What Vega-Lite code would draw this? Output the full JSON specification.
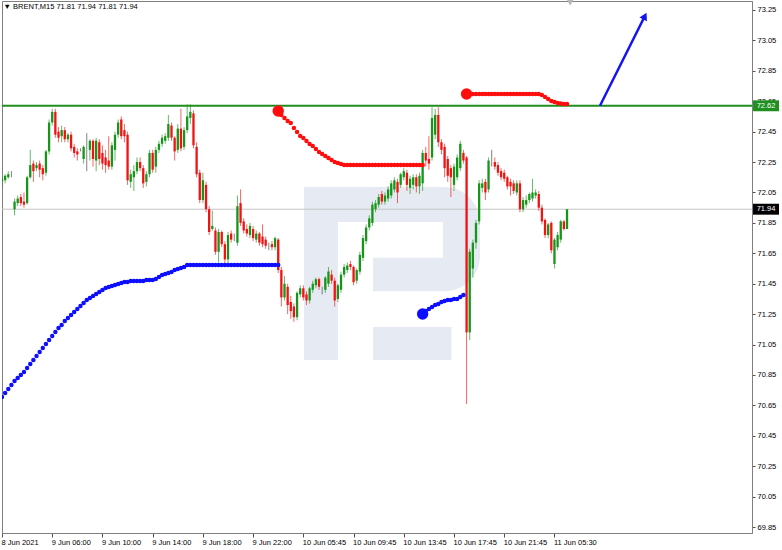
{
"$schema": "https://vega.github.io/schema/vega-lite/v6.json",
"width": 750, "height": 532,
"autosize": {"type": "none"},
"padding": {"left": 2, "top": 1, "right": 30, "bottom": 17},
"background": "white",
"config": {
  "view": {"stroke": "#7f7f7f", "strokeWidth": 1},
  "font": "Liberation Sans",
  "axis": {"labelFont": "Liberation Sans", "labelFontSize": 7.5, "labelColor": "#000000", "domainColor": "#7f7f7f", "tickColor": "#505050", "grid": false, "labelOverlap": false, "labelBound": false, "labelFlush": false}
},
"datasets": {
"candles": [
{"i":0,"o":72.12,"h":72.16,"l":72.08,"c":72.14},{"i":1,"o":72.13,"h":72.17,"l":72.11,"c":72.16},{"i":2,"o":72.15,"h":72.19,"l":72.14,"c":72.17},{"i":3,"o":72.17,"h":72.19,"l":72.15,"c":72.17},{"i":4,"o":71.94,"h":72.01,"l":71.9,"c":71.99},
{"i":5,"o":71.98,"h":72.03,"l":71.96,"c":72.01},{"i":6,"o":72.02,"h":72.04,"l":71.96,"c":71.98},{"i":7,"o":71.99,"h":72.05,"l":71.95,"c":71.97},{"i":8,"o":71.98,"h":72.16,"l":71.97,"c":72.15},{"i":9,"o":72.15,"h":72.33,"l":72.14,"c":72.23},
{"i":10,"o":72.24,"h":72.26,"l":72.12,"c":72.19},{"i":11,"o":72.21,"h":72.25,"l":72.19,"c":72.23},{"i":12,"o":72.24,"h":72.26,"l":72.15,"c":72.2},{"i":13,"o":72.21,"h":72.23,"l":72.13,"c":72.17},{"i":14,"o":72.18,"h":72.33,"l":72.16,"c":72.32},
{"i":15,"o":72.32,"h":72.53,"l":72.3,"c":72.51},{"i":16,"o":72.51,"h":72.6,"l":72.49,"c":72.58},{"i":17,"o":72.58,"h":72.6,"l":72.41,"c":72.43},{"i":18,"o":72.45,"h":72.48,"l":72.38,"c":72.41},{"i":19,"o":72.42,"h":72.49,"l":72.38,"c":72.46},
{"i":20,"o":72.46,"h":72.48,"l":72.38,"c":72.4},{"i":21,"o":72.4,"h":72.44,"l":72.38,"c":72.43},{"i":22,"o":72.43,"h":72.45,"l":72.32,"c":72.34},{"i":23,"o":72.35,"h":72.37,"l":72.28,"c":72.31},{"i":24,"o":72.32,"h":72.34,"l":72.26,"c":72.3},
{"i":25,"o":72.33,"h":72.34,"l":72.32,"c":72.33},{"i":26,"o":72.27,"h":72.36,"l":72.24,"c":72.35},{"i":27,"o":72.36,"h":72.44,"l":72.19,"c":72.36},{"i":28,"o":72.33,"h":72.4,"l":72.26,"c":72.39},{"i":29,"o":72.39,"h":72.4,"l":72.22,"c":72.27},
{"i":30,"o":72.26,"h":72.41,"l":72.19,"c":72.39},{"i":31,"o":72.38,"h":72.4,"l":72.23,"c":72.27},{"i":32,"o":72.31,"h":72.36,"l":72.2,"c":72.24},{"i":33,"o":72.28,"h":72.33,"l":72.18,"c":72.23},{"i":34,"o":72.26,"h":72.42,"l":72.2,"c":72.22},
{"i":35,"o":72.22,"h":72.38,"l":72.2,"c":72.36},{"i":36,"o":72.33,"h":72.45,"l":72.26,"c":72.43},{"i":37,"o":72.43,"h":72.53,"l":72.41,"c":72.51},{"i":38,"o":72.53,"h":72.55,"l":72.4,"c":72.42},{"i":39,"o":72.46,"h":72.5,"l":72.38,"c":72.42},
{"i":40,"o":72.43,"h":72.45,"l":72.1,"c":72.13},{"i":41,"o":72.12,"h":72.2,"l":72.08,"c":72.17},{"i":42,"o":72.15,"h":72.23,"l":72.06,"c":72.19},{"i":43,"o":72.19,"h":72.28,"l":72.17,"c":72.25},{"i":44,"o":72.25,"h":72.28,"l":72.19,"c":72.21},
{"i":45,"o":72.21,"h":72.23,"l":72.08,"c":72.11},{"i":46,"o":72.12,"h":72.19,"l":72.09,"c":72.17},{"i":47,"o":72.17,"h":72.33,"l":72.15,"c":72.31},{"i":48,"o":72.31,"h":72.33,"l":72.18,"c":72.2},{"i":49,"o":72.22,"h":72.35,"l":72.18,"c":72.33},
{"i":50,"o":72.33,"h":72.39,"l":72.31,"c":72.37},{"i":51,"o":72.37,"h":72.43,"l":72.35,"c":72.41},{"i":52,"o":72.39,"h":72.44,"l":72.37,"c":72.42},{"i":53,"o":72.41,"h":72.56,"l":72.39,"c":72.5},{"i":54,"o":72.49,"h":72.51,"l":72.39,"c":72.41},
{"i":55,"o":72.41,"h":72.42,"l":72.26,"c":72.32},{"i":56,"o":72.33,"h":72.5,"l":72.31,"c":72.47},{"i":57,"o":72.47,"h":72.6,"l":72.32,"c":72.34},{"i":58,"o":72.35,"h":72.48,"l":72.33,"c":72.46},{"i":59,"o":72.46,"h":72.63,"l":72.44,"c":72.55},
{"i":60,"o":72.54,"h":72.63,"l":72.5,"c":72.58},{"i":61,"o":72.57,"h":72.59,"l":72.34,"c":72.36},{"i":62,"o":72.35,"h":72.38,"l":72.15,"c":72.17},{"i":63,"o":72.18,"h":72.2,"l":71.98,"c":72.0},{"i":64,"o":72.0,"h":72.18,"l":71.98,"c":72.13},
{"i":65,"o":72.1,"h":72.12,"l":71.92,"c":71.94},{"i":66,"o":71.94,"h":71.96,"l":71.77,"c":71.79},{"i":67,"o":71.81,"h":71.93,"l":71.8,"c":71.83},{"i":68,"o":71.8,"h":71.82,"l":71.64,"c":71.66},{"i":69,"o":71.66,"h":71.81,"l":71.59,"c":71.79},
{"i":70,"o":71.79,"h":71.8,"l":71.69,"c":71.71},{"i":71,"o":71.71,"h":71.73,"l":71.58,"c":71.61},{"i":72,"o":71.61,"h":71.79,"l":71.58,"c":71.77},{"i":73,"o":71.78,"h":71.8,"l":71.72,"c":71.74},{"i":74,"o":71.75,"h":71.78,"l":71.73,"c":71.75},
{"i":75,"o":71.72,"h":72.03,"l":71.7,"c":71.96},{"i":76,"o":71.98,"h":72.07,"l":71.83,"c":71.85},{"i":77,"o":71.86,"h":71.88,"l":71.78,"c":71.8},{"i":78,"o":71.81,"h":71.84,"l":71.76,"c":71.78},{"i":79,"o":71.77,"h":71.85,"l":71.75,"c":71.83},
{"i":80,"o":71.81,"h":71.83,"l":71.73,"c":71.75},{"i":81,"o":71.74,"h":71.8,"l":71.72,"c":71.78},{"i":82,"o":71.78,"h":71.79,"l":71.7,"c":71.72},{"i":83,"o":71.76,"h":71.84,"l":71.69,"c":71.71},{"i":84,"o":71.74,"h":71.76,"l":71.68,"c":71.7},
{"i":85,"o":71.7,"h":71.72,"l":71.67,"c":71.7},{"i":86,"o":71.71,"h":71.73,"l":71.67,"c":71.69},{"i":87,"o":71.69,"h":71.76,"l":71.67,"c":71.75},{"i":88,"o":71.74,"h":71.75,"l":71.52,"c":71.54},{"i":89,"o":71.54,"h":71.56,"l":71.3,"c":71.36},
{"i":90,"o":71.36,"h":71.5,"l":71.34,"c":71.45},{"i":91,"o":71.43,"h":71.45,"l":71.25,"c":71.31},{"i":92,"o":71.33,"h":71.37,"l":71.22,"c":71.27},{"i":93,"o":71.3,"h":71.32,"l":71.2,"c":71.23},{"i":94,"o":71.23,"h":71.4,"l":71.21,"c":71.39},
{"i":95,"o":71.38,"h":71.44,"l":71.36,"c":71.42},{"i":96,"o":71.42,"h":71.44,"l":71.34,"c":71.36},{"i":97,"o":71.38,"h":71.4,"l":71.31,"c":71.34},{"i":98,"o":71.34,"h":71.43,"l":71.32,"c":71.42},{"i":99,"o":71.41,"h":71.47,"l":71.39,"c":71.45},
{"i":100,"o":71.44,"h":71.49,"l":71.42,"c":71.48},{"i":101,"o":71.48,"h":71.49,"l":71.41,"c":71.43},{"i":102,"o":71.41,"h":71.43,"l":71.38,"c":71.41},{"i":103,"o":71.41,"h":71.5,"l":71.39,"c":71.49},{"i":104,"o":71.45,"h":71.56,"l":71.43,"c":71.53},
{"i":105,"o":71.51,"h":71.54,"l":71.45,"c":71.47},{"i":106,"o":71.47,"h":71.49,"l":71.3,"c":71.34},{"i":107,"o":71.35,"h":71.45,"l":71.33,"c":71.44},{"i":108,"o":71.41,"h":71.53,"l":71.39,"c":71.51},{"i":109,"o":71.51,"h":71.58,"l":71.49,"c":71.56},
{"i":110,"o":71.54,"h":71.59,"l":71.52,"c":71.57},{"i":111,"o":71.58,"h":71.6,"l":71.54,"c":71.56},{"i":112,"o":71.56,"h":71.57,"l":71.44,"c":71.46},{"i":113,"o":71.47,"h":71.55,"l":71.45,"c":71.54},{"i":114,"o":71.53,"h":71.66,"l":71.51,"c":71.64},
{"i":115,"o":71.62,"h":71.77,"l":71.6,"c":71.75},{"i":116,"o":71.73,"h":71.84,"l":71.71,"c":71.82},{"i":117,"o":71.82,"h":71.9,"l":71.8,"c":71.88},{"i":118,"o":71.85,"h":71.99,"l":71.83,"c":71.97},{"i":119,"o":71.94,"h":72.0,"l":71.92,"c":71.98},
{"i":120,"o":71.97,"h":72.04,"l":71.95,"c":72.02},{"i":121,"o":72.04,"h":72.06,"l":71.97,"c":71.99},{"i":122,"o":71.99,"h":72.05,"l":71.97,"c":72.03},{"i":123,"o":72.01,"h":72.09,"l":71.99,"c":72.07},{"i":124,"o":72.03,"h":72.13,"l":72.01,"c":72.11},
{"i":125,"o":72.07,"h":72.15,"l":72.05,"c":72.13},{"i":126,"o":72.12,"h":72.14,"l":71.98,"c":72.05},{"i":127,"o":72.1,"h":72.18,"l":72.08,"c":72.17},{"i":128,"o":72.15,"h":72.21,"l":72.13,"c":72.19},{"i":129,"o":72.18,"h":72.2,"l":72.06,"c":72.1},
{"i":130,"o":72.08,"h":72.16,"l":72.04,"c":72.14},{"i":131,"o":72.1,"h":72.17,"l":72.07,"c":72.15},{"i":132,"o":72.15,"h":72.17,"l":72.05,"c":72.09},{"i":133,"o":72.09,"h":72.18,"l":72.04,"c":72.16},{"i":134,"o":72.11,"h":72.33,"l":72.06,"c":72.31},
{"i":135,"o":72.31,"h":72.35,"l":72.22,"c":72.26},{"i":136,"o":72.27,"h":72.42,"l":72.2,"c":72.24},{"i":137,"o":72.28,"h":72.61,"l":72.26,"c":72.54},{"i":138,"o":72.43,"h":72.6,"l":72.4,"c":72.56},{"i":139,"o":72.56,"h":72.61,"l":72.35,"c":72.38},
{"i":140,"o":72.38,"h":72.4,"l":72.3,"c":72.33},{"i":141,"o":72.35,"h":72.37,"l":72.15,"c":72.21},{"i":142,"o":72.27,"h":72.29,"l":72.12,"c":72.16},{"i":143,"o":72.21,"h":72.23,"l":72.02,"c":72.15},{"i":144,"o":72.1,"h":72.24,"l":72.06,"c":72.22},
{"i":145,"o":72.15,"h":72.3,"l":72.13,"c":72.28},{"i":146,"o":72.21,"h":72.39,"l":72.19,"c":72.37},{"i":147,"o":72.31,"h":72.33,"l":72.24,"c":72.26},{"i":148,"o":72.28,"h":72.29,"l":70.66,"c":71.13},{"i":149,"o":71.13,"h":71.68,"l":71.08,"c":71.66},
{"i":150,"o":71.55,"h":71.74,"l":71.49,"c":71.72},{"i":151,"o":71.72,"h":71.87,"l":71.68,"c":71.85},{"i":152,"o":71.86,"h":72.13,"l":71.84,"c":72.11},{"i":153,"o":72.08,"h":72.14,"l":72.05,"c":72.11},{"i":154,"o":72.12,"h":72.14,"l":72.0,"c":72.05},
{"i":155,"o":72.07,"h":72.28,"l":72.05,"c":72.26},{"i":156,"o":72.25,"h":72.33,"l":72.22,"c":72.25},{"i":157,"o":72.25,"h":72.28,"l":72.2,"c":72.22},{"i":158,"o":72.23,"h":72.25,"l":72.16,"c":72.18},{"i":159,"o":72.19,"h":72.21,"l":72.13,"c":72.15},
{"i":160,"o":72.18,"h":72.2,"l":72.12,"c":72.14},{"i":161,"o":72.15,"h":72.16,"l":72.07,"c":72.09},{"i":162,"o":72.12,"h":72.14,"l":72.03,"c":72.09},{"i":163,"o":72.11,"h":72.13,"l":72.04,"c":72.06},{"i":164,"o":72.05,"h":72.13,"l":72.03,"c":72.11},
{"i":165,"o":72.11,"h":72.13,"l":71.92,"c":71.94},{"i":166,"o":71.94,"h":72.02,"l":71.92,"c":72.0},{"i":167,"o":71.97,"h":72.03,"l":71.95,"c":72.0},{"i":168,"o":72.0,"h":72.05,"l":71.98,"c":72.04},{"i":169,"o":72.01,"h":72.14,"l":71.99,"c":72.05},
{"i":170,"o":72.03,"h":72.07,"l":72.01,"c":72.05},{"i":171,"o":72.04,"h":72.06,"l":71.93,"c":71.95},{"i":172,"o":71.95,"h":71.97,"l":71.84,"c":71.86},{"i":173,"o":71.87,"h":71.88,"l":71.75,"c":71.77},{"i":174,"o":71.77,"h":71.85,"l":71.75,"c":71.84},
{"i":175,"o":71.85,"h":71.86,"l":71.65,"c":71.67},{"i":176,"o":71.58,"h":71.75,"l":71.55,"c":71.74},{"i":177,"o":71.69,"h":71.79,"l":71.67,"c":71.77},{"i":178,"o":71.74,"h":71.87,"l":71.72,"c":71.86},{"i":179,"o":71.86,"h":71.87,"l":71.8,"c":71.81},
{"i":180,"o":71.81,"h":71.94,"l":71.81,"c":71.94}
],
"dots": [
{"i":0,"p":70.705,"s":"b"},{"i":1,"p":70.731,"s":"b"},{"i":2,"p":70.758,"s":"b"},{"i":3,"p":70.784,"s":"b"},{"i":4,"p":70.81,"s":"b"},{"i":5,"p":70.83,"s":"b"},{"i":6,"p":70.85,"s":"b"},{"i":7,"p":70.869,"s":"b"},{"i":8,"p":70.896,"s":"b"},{"i":9,"p":70.922,"s":"b"},
{"i":10,"p":70.948,"s":"b"},{"i":11,"p":70.975,"s":"b"},{"i":12,"p":71.001,"s":"b"},{"i":13,"p":71.027,"s":"b"},{"i":14,"p":71.054,"s":"b"},{"i":15,"p":71.08,"s":"b"},{"i":16,"p":71.106,"s":"b"},{"i":17,"p":71.132,"s":"b"},{"i":18,"p":71.159,"s":"b"},{"i":19,"p":71.178,"s":"b"},
{"i":20,"p":71.205,"s":"b"},{"i":21,"p":71.224,"s":"b"},{"i":22,"p":71.244,"s":"b"},{"i":23,"p":71.264,"s":"b"},{"i":24,"p":71.284,"s":"b"},{"i":25,"p":71.303,"s":"b"},{"i":26,"p":71.323,"s":"b"},{"i":27,"p":71.343,"s":"b"},{"i":28,"p":71.356,"s":"b"},{"i":29,"p":71.369,"s":"b"},
{"i":30,"p":71.382,"s":"b"},{"i":31,"p":71.395,"s":"b"},{"i":32,"p":71.409,"s":"b"},{"i":33,"p":71.422,"s":"b"},{"i":34,"p":71.428,"s":"b"},{"i":35,"p":71.435,"s":"b"},{"i":36,"p":71.441,"s":"b"},{"i":37,"p":71.448,"s":"b"},{"i":38,"p":71.455,"s":"b"},{"i":39,"p":71.461,"s":"b"},
{"i":40,"p":71.461,"s":"b"},{"i":41,"p":71.468,"s":"b"},{"i":42,"p":71.468,"s":"b"},{"i":43,"p":71.468,"s":"b"},{"i":44,"p":71.468,"s":"b"},{"i":45,"p":71.468,"s":"b"},{"i":46,"p":71.474,"s":"b"},{"i":47,"p":71.474,"s":"b"},{"i":48,"p":71.474,"s":"b"},{"i":49,"p":71.481,"s":"b"},
{"i":50,"p":71.494,"s":"b"},{"i":51,"p":71.507,"s":"b"},{"i":52,"p":71.514,"s":"b"},{"i":53,"p":71.52,"s":"b"},{"i":54,"p":71.527,"s":"b"},{"i":55,"p":71.54,"s":"b"},{"i":56,"p":71.547,"s":"b"},{"i":57,"p":71.553,"s":"b"},{"i":58,"p":71.56,"s":"b"},{"i":59,"p":71.573,"s":"b"},
{"i":60,"p":71.573,"s":"b"},{"i":61,"p":71.573,"s":"b"},{"i":62,"p":71.573,"s":"b"},{"i":63,"p":71.573,"s":"b"},{"i":64,"p":71.573,"s":"b"},{"i":65,"p":71.573,"s":"b"},{"i":66,"p":71.573,"s":"b"},{"i":67,"p":71.573,"s":"b"},{"i":68,"p":71.573,"s":"b"},{"i":69,"p":71.573,"s":"b"},
{"i":70,"p":71.573,"s":"b"},{"i":71,"p":71.573,"s":"b"},{"i":72,"p":71.573,"s":"b"},{"i":73,"p":71.573,"s":"b"},{"i":74,"p":71.573,"s":"b"},{"i":75,"p":71.573,"s":"b"},{"i":76,"p":71.573,"s":"b"},{"i":77,"p":71.573,"s":"b"},{"i":78,"p":71.573,"s":"b"},{"i":79,"p":71.573,"s":"b"},
{"i":80,"p":71.573,"s":"b"},{"i":81,"p":71.573,"s":"b"},{"i":82,"p":71.573,"s":"b"},{"i":83,"p":71.573,"s":"b"},{"i":84,"p":71.573,"s":"b"},{"i":85,"p":71.573,"s":"b"},{"i":86,"p":71.573,"s":"b"},{"i":87,"p":71.573,"s":"b"},{"i":88,"p":71.573,"s":"b"},
{"i":88,"p":72.586,"s":"r"},{"i":89,"p":72.56,"s":"r"},{"i":90,"p":72.54,"s":"r"},{"i":91,"p":72.52,"s":"r"},{"i":92,"p":72.507,"s":"r"},{"i":93,"p":72.474,"s":"r"},{"i":94,"p":72.448,"s":"r"},{"i":95,"p":72.421,"s":"r"},{"i":96,"p":72.408,"s":"r"},{"i":97,"p":72.389,"s":"r"},
{"i":98,"p":72.369,"s":"r"},{"i":99,"p":72.356,"s":"r"},{"i":100,"p":72.336,"s":"r"},{"i":101,"p":72.316,"s":"r"},{"i":102,"p":72.303,"s":"r"},{"i":103,"p":72.29,"s":"r"},{"i":104,"p":72.277,"s":"r"},{"i":105,"p":72.264,"s":"r"},{"i":106,"p":72.25,"s":"r"},{"i":107,"p":72.244,"s":"r"},
{"i":108,"p":72.237,"s":"r"},{"i":109,"p":72.231,"s":"r"},{"i":110,"p":72.231,"s":"r"},{"i":111,"p":72.231,"s":"r"},{"i":112,"p":72.231,"s":"r"},{"i":113,"p":72.231,"s":"r"},{"i":114,"p":72.231,"s":"r"},{"i":115,"p":72.231,"s":"r"},{"i":116,"p":72.231,"s":"r"},{"i":117,"p":72.231,"s":"r"},
{"i":118,"p":72.231,"s":"r"},{"i":119,"p":72.231,"s":"r"},{"i":120,"p":72.231,"s":"r"},{"i":121,"p":72.231,"s":"r"},{"i":122,"p":72.231,"s":"r"},{"i":123,"p":72.231,"s":"r"},{"i":124,"p":72.231,"s":"r"},{"i":125,"p":72.231,"s":"r"},{"i":126,"p":72.231,"s":"r"},{"i":127,"p":72.231,"s":"r"},
{"i":128,"p":72.231,"s":"r"},{"i":129,"p":72.231,"s":"r"},{"i":130,"p":72.231,"s":"r"},{"i":131,"p":72.231,"s":"r"},{"i":132,"p":72.231,"s":"r"},{"i":133,"p":72.231,"s":"r"},{"i":134,"p":72.231,"s":"r"},
{"i":134,"p":71.251,"s":"b"},{"i":135,"p":71.271,"s":"b"},{"i":136,"p":71.284,"s":"b"},{"i":137,"p":71.297,"s":"b"},{"i":138,"p":71.31,"s":"b"},{"i":139,"p":71.317,"s":"b"},{"i":140,"p":71.33,"s":"b"},{"i":141,"p":71.336,"s":"b"},{"i":142,"p":71.343,"s":"b"},{"i":143,"p":71.343,"s":"b"},
{"i":144,"p":71.35,"s":"b"},{"i":145,"p":71.35,"s":"b"},{"i":146,"p":71.363,"s":"b"},{"i":147,"p":71.376,"s":"b"},
{"i":148,"p":72.698,"s":"r"},{"i":149,"p":72.698,"s":"r"},{"i":150,"p":72.698,"s":"r"},{"i":151,"p":72.698,"s":"r"},{"i":152,"p":72.698,"s":"r"},{"i":153,"p":72.698,"s":"r"},{"i":154,"p":72.698,"s":"r"},{"i":155,"p":72.698,"s":"r"},{"i":156,"p":72.698,"s":"r"},{"i":157,"p":72.698,"s":"r"},
{"i":158,"p":72.698,"s":"r"},{"i":159,"p":72.698,"s":"r"},{"i":160,"p":72.698,"s":"r"},{"i":161,"p":72.698,"s":"r"},{"i":162,"p":72.698,"s":"r"},{"i":163,"p":72.698,"s":"r"},{"i":164,"p":72.698,"s":"r"},{"i":165,"p":72.698,"s":"r"},{"i":166,"p":72.698,"s":"r"},{"i":167,"p":72.698,"s":"r"},
{"i":168,"p":72.698,"s":"r"},{"i":169,"p":72.698,"s":"r"},{"i":170,"p":72.698,"s":"r"},{"i":171,"p":72.698,"s":"r"},{"i":172,"p":72.691,"s":"r"},{"i":173,"p":72.678,"s":"r"},{"i":174,"p":72.665,"s":"r"},{"i":175,"p":72.652,"s":"r"},{"i":176,"p":72.645,"s":"r"},{"i":177,"p":72.639,"s":"r"},
{"i":178,"p":72.635,"s":"r"},{"i":179,"p":72.632,"s":"r"},{"i":180,"p":72.632,"s":"r"}
],
"starts": [{"i":88,"p":72.586,"s":"r"},{"i":134,"p":71.251,"s":"b"},{"i":148,"p":72.698,"s":"r"}],
"levels": [{"p":72.62,"t":"72.62","k":"g"},{"p":71.94,"t":"71.94","k":"k"}],
"arrow": [{"i":190.5,"p":72.62,"i2":204.8,"p2":73.21}],
"logoBowl": [{"i":96.2,"i2":152.3,"p":71.40,"p2":72.086}],
"logoHoles": [{"i":107,"i2":140.5,"p":71.62,"p2":71.856},{"i":107,"i2":118.2,"p":71.38,"p2":71.625}],
"logoParts": [{"i":96.2,"i2":107,"p":70.948,"p2":71.41},{"i":118.2,"i2":143.2,"p":70.948,"p2":71.165}]
},
"layer": [
{"data": {"name": "logoBowl"}, "mark": {"type": "rect", "color": "#e6eaf3", "cornerRadiusTopRight": 36, "cornerRadiusBottomRight": 36, "clip": true},
 "encoding": {"x": {"field": "i", "type": "quantitative", "scale": {"domain": [0, 238.93], "nice": false, "zero": false},
   "axis": {"orient": "bottom", "values": [0,16,32,48,64,80,96,112,128,144,160,176], "tickCount": 40, "labelExpr": "['8 Jun 2021','9 Jun 06:00','9 Jun 10:00','9 Jun 14:00','9 Jun 18:00','9 Jun 22:00','10 Jun 05:45','10 Jun 09:45','10 Jun 13:45','10 Jun 17:45','10 Jun 21:45','11 Jun 05:30'][round(datum.value/16)]", "labelAlign": "left", "labelBaseline": "top", "labelPadding": 1, "labelOffset": -1, "tickSize": 4, "labelFlush": false, "labelOverlap": false, "labelBound": false, "title": null, "grid": false}},
  "x2": {"field": "i2"},
  "y": {"field": "p", "type": "quantitative", "scale": {"domain": [69.811, 73.309], "nice": false, "zero": false},
   "axis": {"orient": "right", "values": [69.85,70.05,70.25,70.45,70.65,70.85,71.05,71.25,71.45,71.65,71.85,72.05,72.25,72.45,72.65,72.85,73.05,73.25], "tickCount": 40, "format": ".2f", "tickSize": 3, "labelPadding": 2, "labelAlign": "left", "labelBaseline": "middle", "labelOverlap": false, "labelBound": false, "labelFlush": false, "title": null, "grid": false}},
  "y2": {"field": "p2"}}},
{"data": {"name": "logoHoles"}, "mark": {"type": "rect", "color": "#ffffff", "clip": true},
 "encoding": {"x": {"field": "i", "type": "quantitative"}, "x2": {"field": "i2"}, "y": {"field": "p", "type": "quantitative"}, "y2": {"field": "p2"}}},
{"data": {"name": "logoParts"}, "mark": {"type": "rect", "color": "#e6eaf3", "clip": true},
 "encoding": {"x": {"field": "i", "type": "quantitative"}, "x2": {"field": "i2"}, "y": {"field": "p", "type": "quantitative"}, "y2": {"field": "p2"}}},
{"data": {"name": "levels"}, "mark": {"type": "rule", "clip": true},
 "encoding": {"y": {"field": "p", "type": "quantitative"},
  "color": {"condition": {"test": "datum.k == 'g'", "value": "#1f8f1f"}, "value": "#c4c4c4"},
  "strokeWidth": {"condition": {"test": "datum.k == 'g'", "value": 2}, "value": 1}}},
{"data": {"name": "candles"}, "mark": {"type": "rule", "strokeWidth": 1, "opacity": 0.65, "clip": true},
 "encoding": {"x": {"field": "i", "type": "quantitative"}, "y": {"field": "l", "type": "quantitative"}, "y2": {"field": "h"},
  "color": {"condition": [{"test": "datum.c > datum.o", "value": "#17941a"}, {"test": "datum.c == datum.o", "value": "#404040"}], "value": "#f21212"}}},
{"data": {"name": "candles"}, "mark": {"type": "rule", "strokeWidth": 2.3, "clip": true},
 "encoding": {"x": {"field": "i", "type": "quantitative"}, "y": {"field": "o", "type": "quantitative"}, "y2": {"field": "c"},
  "color": {"condition": [{"test": "datum.c > datum.o", "value": "#17941a"}, {"test": "datum.c == datum.o", "value": "#404040"}], "value": "#f21212"}}},
{"data": {"name": "dots"}, "mark": {"type": "point", "filled": true, "size": 20, "opacity": 1, "clip": true},
 "encoding": {"x": {"field": "i", "type": "quantitative"}, "y": {"field": "p", "type": "quantitative"},
  "color": {"condition": {"test": "datum.s == 'b'", "value": "#0d0dff"}, "value": "#ff0d0d"}}},
{"data": {"name": "starts"}, "mark": {"type": "point", "filled": true, "size": 130, "opacity": 1},
 "encoding": {"x": {"field": "i", "type": "quantitative"}, "y": {"field": "p", "type": "quantitative"},
  "color": {"condition": {"test": "datum.s == 'b'", "value": "#0d0dff"}, "value": "#ff0d0d"}}},
{"data": {"name": "arrow"}, "mark": {"type": "rule", "strokeWidth": 2.5, "color": "#1414f0"},
 "encoding": {"x": {"field": "i", "type": "quantitative"}, "y": {"field": "p", "type": "quantitative"}, "x2": {"field": "i2"}, "y2": {"field": "p2"}}},
{"data": {"name": "arrow"}, "mark": {"type": "point", "shape": "triangle-up", "filled": true, "size": 70, "angle": 27, "color": "#1414f0", "opacity": 1},
 "encoding": {"x": {"field": "i2", "type": "quantitative"}, "y": {"field": "p2", "type": "quantitative"}}},
{"data": {"name": "levels"}, "mark": {"type": "point", "shape": "M-1,-0.42L1,-0.42L1,0.42L-1,0.42Z", "filled": true, "size": 676, "opacity": 1, "clip": false},
 "encoding": {"x": {"datum": 243.4, "type": "quantitative"}, "y": {"field": "p", "type": "quantitative"},
  "color": {"condition": {"test": "datum.k == 'g'", "value": "#1f8f1f"}, "value": "#000000"}}},
{"data": {"name": "levels"}, "mark": {"type": "text", "font": "Liberation Sans", "fontSize": 7.5, "color": "#ffffff", "align": "center", "baseline": "middle", "clip": false},
 "encoding": {"x": {"datum": 243.4, "type": "quantitative"}, "y": {"field": "p", "type": "quantitative"}, "text": {"field": "t"}}},
{"data": {"values": [{"t": "▼  BRENT,M15  71.81 71.94 71.81 71.94"}]}, "mark": {"type": "text", "font": "Liberation Sans", "fontSize": 7.5, "color": "#000000", "align": "left", "baseline": "middle", "clip": false},
 "encoding": {"x": {"datum": 0.5, "type": "quantitative"}, "y": {"datum": 73.27, "type": "quantitative"}, "text": {"field": "t"}}},
{"data": {"values": [{"m": "shift"}]}, "mark": {"type": "point", "shape": "triangle-down", "filled": true, "size": 45, "color": "#b8b8b8", "opacity": 1, "clip": false},
 "encoding": {"x": {"datum": 181, "type": "quantitative"}, "y": {"datum": 73.298, "type": "quantitative"}}}
]
}
